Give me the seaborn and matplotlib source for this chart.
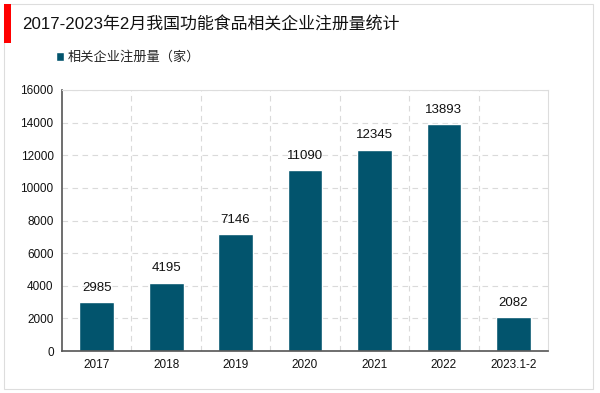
import matplotlib
matplotlib.use("Agg")
import matplotlib.pyplot as plt
import seaborn as sns
import pandas as pd
from matplotlib.patches import Rectangle

# data
years = ["2017", "2018", "2019", "2020", "2021", "2022", "2023.1-2"]
counts = [2985, 4195, 7146, 11090, 12345, 13893, 2082]
title = "2017-2023年2月我国功能食品相关企业注册量统计"
series_name = "相关企业注册量（家）"
bar_color = "#02546D"

sns.set_theme(style="white")
plt.rcParams['font.family'] = ['Liberation Sans', 'Noto Sans CJK SC', 'DejaVu Sans']

df = pd.DataFrame({"year": years, "count": counts})

fig = plt.figure(figsize=(6.0, 3.93), dpi=100)
ax = fig.add_axes([62 / 600, 1 - 351 / 393, (548 - 62) / 600, (351 - 90) / 393])

sns.barplot(data=df, x="year", y="count", color=bar_color, width=0.5,
            saturation=1, ax=ax, label=series_name)

for patch, value in zip(ax.patches, counts):
    ax.annotate(f"{value}", (patch.get_x() + patch.get_width() / 2, patch.get_height()),
                ha="center", va="bottom", xytext=(0, 6), textcoords="offset points",
                fontsize=9.5, color="#111111")

ax.set_ylim(0, 16000)
ax.set_xlim(-0.5, len(years) - 0.5)
ax.set_yticks(range(0, 16001, 2000))
ax.set_xlabel("")
ax.set_ylabel("")
ax.tick_params(axis="both", labelsize=8.5, colors="#111111", length=0, pad=6)

# dashed grid: horizontal at ticks, vertical at category boundaries
for y in range(2000, 16001, 2000):
    ax.axhline(y, color="#DADADA", linestyle=(0, (5, 4)), linewidth=0.8, zorder=0)
for k in range(1, len(years)):
    ax.axvline(k - 0.5, color="#DADADA", linestyle=(0, (5, 4)), linewidth=0.8, zorder=0)

for side in ["left", "bottom"]:
    ax.spines[side].set_color("#555555")
    ax.spines[side].set_linewidth(1.2)
for side in ["top", "right"]:
    ax.spines[side].set_color("#DDDDDD")
    ax.spines[side].set_linewidth(0.8)

ax.legend(loc="upper left", bbox_to_anchor=(51 / 600, 1 - 46 / 393),
          bbox_transform=fig.transFigure, frameon=False, fontsize=9.5,
          handlelength=0.6, handleheight=0.6, handletextpad=0.3, borderaxespad=0)

# outer frame, red accent and title
fig.patches.append(Rectangle((4 / 600, 4 / 393), 589 / 600, 385 / 393, transform=fig.transFigure,
                             fill=False, edgecolor="#DDDDDD", linewidth=0.8))
fig.patches.append(Rectangle((4 / 600, 1 - 43 / 393), 7 / 600, 39 / 393, transform=fig.transFigure,
                             facecolor="#FF0000", edgecolor="none"))
fig.text(22 / 600, 1 - 25 / 393, title, fontsize=12.2, ha="left", va="center", color="#111111")

fig.savefig("out.png", dpi=100)
